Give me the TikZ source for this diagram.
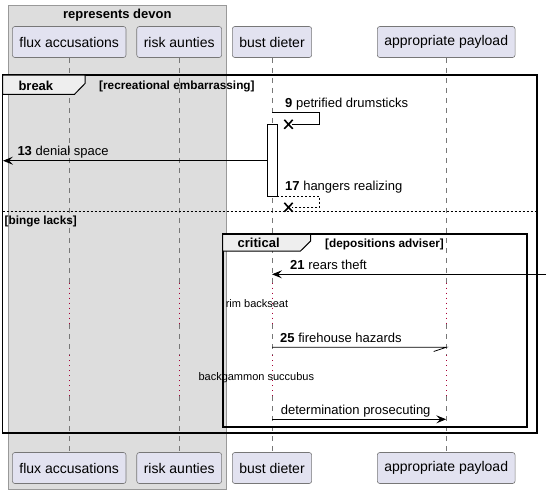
\documentclass[tikz,border=0pt]{standalone}
\usepackage{fontspec}
\setmainfont{Liberation Sans}
\usetikzlibrary{arrows.meta}
\definecolor{partfill}{HTML}{E2E2F0}
\definecolor{partdraw}{HTML}{777777}
\definecolor{grpfill}{HTML}{DDDDDD}
\definecolor{grpdraw}{HTML}{999999}
\definecolor{tabfill}{HTML}{EEEEEE}
\definecolor{delayred}{HTML}{A80036}
\definecolor{lifecol}{HTML}{777777}
\begin{document}
\begin{tikzpicture}[x=1pt,y=-1pt,
  part/.style={draw=partdraw, fill=partfill, rounded corners=2.5pt, line width=0.6pt,
    minimum height=31pt, inner xsep=7pt, inner ysep=0pt, font=\fontsize{14}{16}\selectfont},
  life/.style={draw=lifecol, line width=0.6pt, dash pattern=on 5pt off 5pt},
  delayline/.style={draw=delayred, line width=1pt, dash pattern=on 1pt off 4pt},
  frame/.style={draw=black, line width=1.8pt},
  tab/.style={draw=black, line width=1pt, fill=tabfill},
  msg/.style={draw=black, line width=0.8pt},
  arr/.style={-{Stealth[length=10pt,width=8pt,inset=4pt]}},
  lbl/.style={anchor=base west, inner sep=0pt, font=\fontsize{13}{15}\selectfont},
  bold/.style={anchor=base west, inner sep=0pt, font=\fontsize{13}{15}\selectfont\bfseries},
  guard/.style={anchor=base west, inner sep=0pt, font=\fontsize{11.8}{14}\selectfont\bfseries},
  small/.style={anchor=base, inner sep=0pt, font=\fontsize{11}{13}\selectfont},
  xmark/.style={draw=black, line width=1.6pt}
]
\useasboundingbox (0,0) rectangle (551,491);
% group box
\draw[draw=grpdraw, fill=grpfill, line width=0.6pt] (8,5.5) rectangle (226.7,489.5);
\node[anchor=base, inner sep=0pt, font=\fontsize{13}{15}\selectfont\bfseries] (grptitle) at (117.3,18.3) {represents devon};

% participants
\node[part] (fluxT) at (69.2,42) {flux accusations};
\node[part] (riskT) at (179.2,42) {risk aunties};
\node[part] (bustT) at (272,42) {bust dieter};
\node[part] (payT) at (446.2,42) {appropriate payload};
\node[part] (fluxB) at (69.2,468) {flux accusations};
\node[part] (riskB) at (179.2,468) {risk aunties};
\node[part] (bustB) at (272,468) {bust dieter};
\node[part] (payB) at (446.2,468) {appropriate payload};

% delay coordinates
\coordinate (d1) at (0,282.7);
\coordinate (d2) at (0,324);
\coordinate (d3) at (0,355);
\coordinate (d4) at (0,396);

% lifelines
\foreach \p in {flux,risk,bust,pay}{
  \draw[life] (\p T.south) -- (\p T.south |- d1);
  \draw[delayline] (\p T.south |- d1) -- (\p T.south |- d2);
  \draw[life] (\p T.south |- d2) -- (\p T.south |- d3);
  \draw[delayline] (\p T.south |- d3) -- (\p T.south |- d4);
  \draw[life] (\p T.south |- d4) -- (\p B.north);
}

% break frame
\draw[frame] (2.5,75) rectangle (536.7,433.3);
\draw[tab] (2.5,75) -- (85,75) -- (85,83.5) -- (74.5,94.3) -- (2.5,94.3) -- cycle;
\node[bold] (brk) at (18.3,90) {break};
\node[guard] (brkg) at (99,89.5) {[recreational embarrassing]};

% activation bar
\node[draw=black, fill=white, line width=0.8pt, minimum width=10pt, minimum height=72pt, inner sep=0pt] (act) at (272,160) {};

% message 9 (self, destroy)
\coordinate (s9a) at (272,112.3);
\coordinate (s9b) at (319.5,112.3);
\coordinate (s9c) at (319.5,124.3);
\coordinate (x9) at (288.5,124.3);
\draw[msg] (s9a) -- (s9b) -- (s9c) -- ([xshift=3pt]x9);
\draw[xmark] ([shift={(-4.2,-4.5)}]x9) -- ([shift={(4.2,4.5)}]x9) ([shift={(-4.2,4.5)}]x9) -- ([shift={(4.2,-4.5)}]x9);
\node[lbl] (l9) at (285,107.3) {\textbf{9} petrified drumsticks};

% message 13 (to the left edge)
\coordinate (e13) at (3,160.7);
\draw[msg,arr] (act.west |- e13) -- (e13);
\node[lbl] (l13) at (17.3,155.3) {\textbf{13} denial space};

% message 17 (dashed self, destroy)
\coordinate (s17a) at (277,196);
\coordinate (s17b) at (319.5,196);
\coordinate (s17c) at (319.5,207.3);
\coordinate (x17) at (288.5,207.3);
\draw[msg, line width=0.7pt, dash pattern=on 2pt off 2pt] (s17a) -- (s17b) -- (s17c) -- ([xshift=3pt]x17);
\draw[xmark] ([shift={(-4.2,-4.5)}]x17) -- ([shift={(4.2,4.5)}]x17) ([shift={(-4.2,4.5)}]x17) -- ([shift={(4.2,-4.5)}]x17);
\node[lbl] (l17) at (285,190.7) {\textbf{17} hangers realizing};

% else separator
\draw[line width=0.8pt, dash pattern=on 2pt off 2pt] (2.5,211.7) -- (536.7,211.7);
\node[guard] (els) at (4.5,224) {[binge lacks]};

% critical frame
\draw[frame] (222.7,234.3) rectangle (527.3,426.7);
\draw[tab] (222.7,234.3) -- (310.7,234.3) -- (310.7,241) -- (300.5,251) -- (222.7,251) -- cycle;
\node[bold] (crit) at (237.5,247.5) {critical};
\node[guard] (critg) at (325,247) {[depositions adviser]};

% message 21 (found from right)
\coordinate (s21) at (546,274.3);
\draw[msg,arr] (s21) -- (bustT.south |- s21);
\node[lbl] (l21) at (290,269.3) {\textbf{21} rears theft};

% delay texts
\node[small] (dl1) at (257,307.3) {rim backseat};
\node[small] (dl2) at (256.3,380) {backgammon succubus};

% message 25 (half arrow)
\coordinate (m25) at (0,347.3);
\draw[msg] (bustT.south |- m25) -- (payT.south |- m25) -- ++(-12.5,4.2);
\node[lbl] (l25) at (280,342) {\textbf{25} firehouse hazards};

% message determination
\coordinate (m26) at (0,419.3);
\draw[msg,arr] (bustT.south |- m26) -- (payT.south |- m26);
\node[lbl] (l26) at (280.7,414) {determination prosecuting};
\end{tikzpicture}
\end{document}
